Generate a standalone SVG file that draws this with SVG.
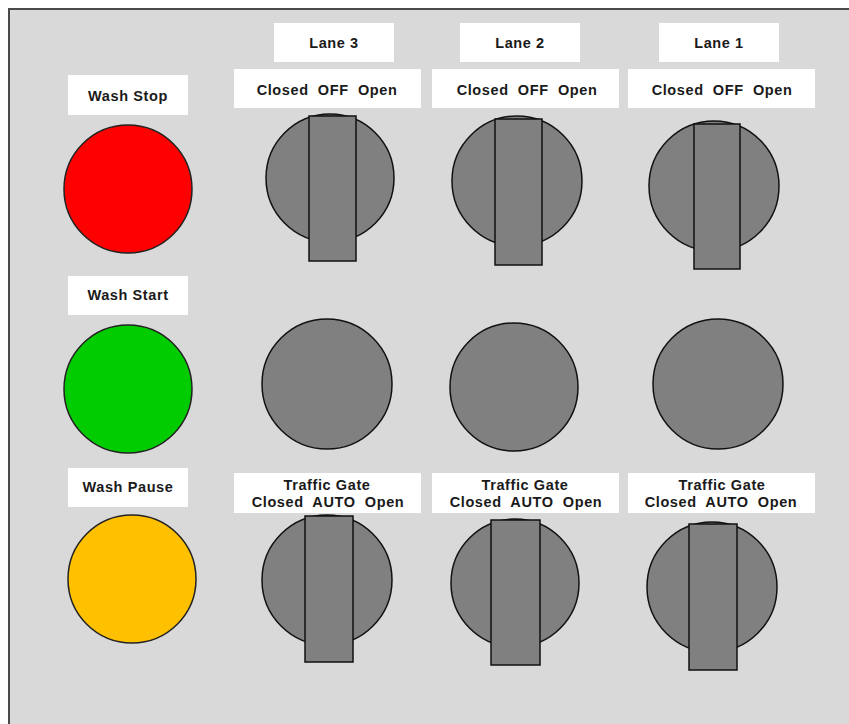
<svg xmlns="http://www.w3.org/2000/svg" width="849" height="724" viewBox="0 0 849 724">
<style>
.panel{fill:#d9d9d9;stroke:#4a4a4a;stroke-width:2}
.lbl{fill:#ffffff}
.t{font-family:"Liberation Sans",Arial,sans-serif;font-weight:bold;font-size:14.5px;letter-spacing:0.6px;fill:#1a1a1a;text-anchor:middle;white-space:pre}
.knob{fill:#808080;stroke:#111;stroke-width:1.5}
.bar{fill:#808080;stroke:#111;stroke-width:1.5}
.red{fill:#ff0000;stroke:#222;stroke-width:1.5}
.green{fill:#00cc00;stroke:#222;stroke-width:1.5}
.yellow{fill:#ffc000;stroke:#222;stroke-width:1.5}
</style>
<rect x="0" y="0" width="849" height="724" fill="#ffffff"/>
<rect class="panel" x="9" y="9" width="850" height="730"/>
<g id="lane3-title"><rect class="lbl" x="274" y="23" width="120" height="39"/><text class="t" x="334" y="48">Lane 3</text></g>
<g id="lane2-title"><rect class="lbl" x="460" y="23" width="120" height="39"/><text class="t" x="520" y="48">Lane 2</text></g>
<g id="lane1-title"><rect class="lbl" x="659" y="23" width="120" height="39"/><text class="t" x="719" y="48">Lane 1</text></g>
<g id="wash-stop">
<rect class="lbl" x="68" y="75" width="120" height="40"/><text class="t" x="128" y="101">Wash Stop</text>
<circle class="red" cx="128" cy="189" r="64"/>
</g>
<g id="wash-start">
<rect class="lbl" x="68" y="276" width="120" height="39"/><text class="t" x="128" y="300">Wash Start</text>
<circle class="green" cx="128" cy="389" r="64"/>
</g>
<g id="wash-pause">
<rect class="lbl" x="68" y="468" width="120" height="39"/><text class="t" x="128" y="492">Wash Pause</text>
<circle class="yellow" cx="132" cy="579" r="64"/>
</g>
<g id="lane3-switch">
<rect class="lbl" x="234" y="69" width="187" height="39"/><text class="t" x="327" y="95">Closed  OFF  Open</text>
<circle class="knob" cx="330" cy="178" r="64"/>
<rect class="bar" x="309" y="116" width="47" height="145"/>
</g>
<g id="lane2-switch">
<rect class="lbl" x="432" y="69" width="187" height="39"/><text class="t" x="527" y="95">Closed  OFF  Open</text>
<circle class="knob" cx="517" cy="181" r="65"/>
<rect class="bar" x="495" y="119" width="47" height="146"/>
</g>
<g id="lane1-switch">
<rect class="lbl" x="628" y="69" width="187" height="39"/><text class="t" x="722" y="95">Closed  OFF  Open</text>
<circle class="knob" cx="714" cy="186" r="65"/>
<rect class="bar" x="694" y="124" width="46" height="145"/>
</g>
<g id="lane3-light"><circle class="knob" cx="327" cy="384" r="65"/></g>
<g id="lane2-light"><circle class="knob" cx="514" cy="387" r="64"/></g>
<g id="lane1-light"><circle class="knob" cx="718" cy="384" r="65"/></g>
<g id="lane3-gate">
<rect class="lbl" x="234" y="473" width="187" height="40"/>
<text class="t" x="327" y="490">Traffic Gate</text><text class="t" x="328" y="507">Closed  AUTO  Open</text>
<circle class="knob" cx="327" cy="580" r="65"/>
<rect class="bar" x="305" y="516" width="48" height="146"/>
</g>
<g id="lane2-gate">
<rect class="lbl" x="432" y="473" width="187" height="40"/>
<text class="t" x="525" y="490">Traffic Gate</text><text class="t" x="526" y="507">Closed  AUTO  Open</text>
<circle class="knob" cx="515" cy="583" r="64"/>
<rect class="bar" x="491" y="520" width="49" height="145"/>
</g>
<g id="lane1-gate">
<rect class="lbl" x="628" y="473" width="187" height="40"/>
<text class="t" x="722" y="490">Traffic Gate</text><text class="t" x="721" y="507">Closed  AUTO  Open</text>
<circle class="knob" cx="712" cy="587" r="65"/>
<rect class="bar" x="689" y="524" width="48" height="146"/>
</g>
<g id="connectors"></g>
</svg>
